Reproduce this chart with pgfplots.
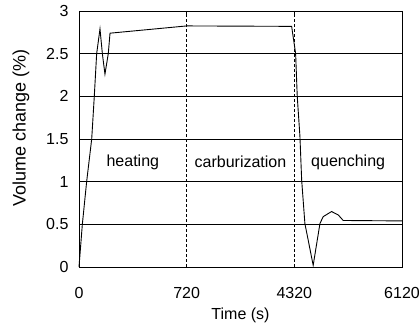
\documentclass[border=0pt]{standalone}
\usepackage{fontspec}
\setmainfont{Liberation Sans}
\usepackage{pgfplots}
\pgfplotsset{compat=1.18}
\begin{document}
\begin{tikzpicture}
\begin{axis}[
  scale only axis, width=323pt, height=256pt,
  xmin=0, xmax=3, ymin=0, ymax=3,
  xtick={0,1,2,3}, xticklabels={0,720,4320,6120},
  ytick={0,0.5,1,1.5,2,2.5,3},
  yticklabels={0,0.5,1,1.5,2,2.5,3},
  ymajorgrids, grid style={black, line width=0.6pt},
  tick align=inside, major tick length=3pt,
  axis line style={line width=0.7pt},
  tick style={black, line width=0.6pt},
  /pgf/number format/assume math mode=true,
  tick label style={font=\fontsize{16}{19}\selectfont},
  xticklabel style={yshift=-26pt, anchor=center},
  yticklabel style={xshift=-7pt},
  xlabel={Time (s)}, ylabel={Volume change (\%)},
  xlabel style={font=\fontsize{16}{19}\selectfont, at={(axis description cs:0.5,0)}, anchor=center, yshift=-48pt},
  ylabel style={font=\fontsize{18}{21}\selectfont, at={(axis description cs:-0.18,0.543)}, anchor=center, rotate=0},
  clip=false,
]
\addplot[black, line width=0.8pt, dashed, dash pattern=on 3pt off 2pt] coordinates {(1,0) (1,3)};
\addplot[black, line width=0.8pt, dashed, dash pattern=on 3pt off 2pt] coordinates {(2,0) (2,3)};
\addplot[black, line width=0.9pt] coordinates {
(0,0) (0.031,0.5) (0.071,1.0) (0.118,1.5) (0.142,2.0) (0.164,2.5) (0.195,2.79)
(0.217,2.5) (0.241,2.26) (0.272,2.5) (0.288,2.74)
(1.0,2.825) (1.975,2.82)
(2.012,2.5) (2.027,2.0) (2.052,1.53) (2.068,1.02) (2.098,0.51) (2.175,0.02)
(2.238,0.51) (2.268,0.59) (2.346,0.65) (2.408,0.61) (2.454,0.545) (3.0,0.54)
};
\node[font=\fontsize{16}{19}\selectfont] at (axis cs:0.5,1.23) {heating};
\node[font=\fontsize{16}{19}\selectfont] at (axis cs:1.5,1.23) {carburization};
\node[font=\fontsize{16}{19}\selectfont] at (axis cs:2.5,1.23) {quenching};
\end{axis}
\pgfresetboundingbox
\path[use as bounding box] ([shift={(-79pt,-61pt)}]current axis.south west) rectangle ++(419pt,328pt);
\end{tikzpicture}
\end{document}
